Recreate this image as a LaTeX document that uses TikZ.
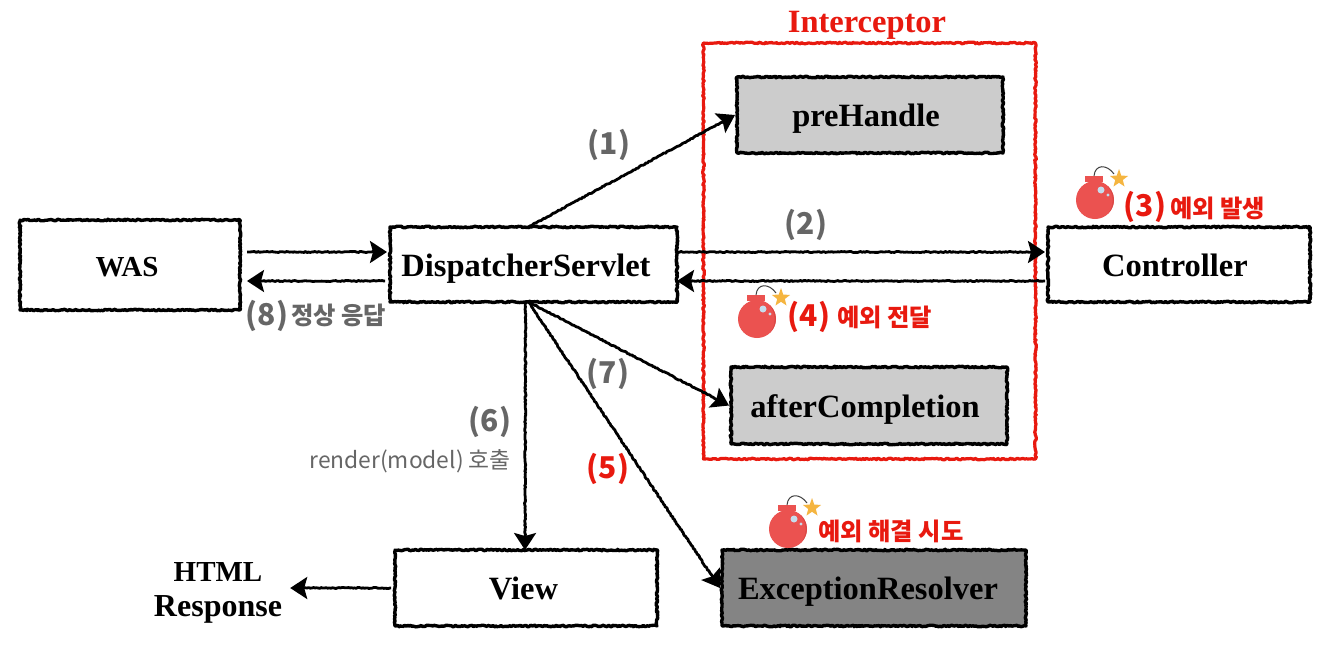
\documentclass[tikz,border=0pt]{standalone}
\usepackage{fontspec}
\setmainfont{Liberation Serif}
\newfontfamily\krfont{Noto Sans CJK KR}
\usetikzlibrary{arrows.meta,decorations.pathmorphing,calc}
\definecolor{redtxt}{HTML}{E8190F}
\definecolor{greytxt}{HTML}{666666}
\definecolor{lightbox}{HTML}{CCCCCC}
\definecolor{darkbox}{HTML}{848484}
\definecolor{bombred}{HTML}{EB5250}
\definecolor{bombdark}{HTML}{D94745}
\definecolor{bombstar}{HTML}{F5B540}
\definecolor{bombshine}{HTML}{C5DCEC}
\newcommand{\lft}[1]{\hspace*{-#1pt}}
\newcommand{\capsize}{\fontsize{29}{36}\selectfont}
\tikzset{
  x=1pt,y=-1pt,
  rough/.style={line join=round,decorate,decoration={random steps,segment length=1.5pt,amplitude=.8pt,pre length=.5pt,post length=.5pt}},
  boxnode/.style={draw=black,line width=3.4pt,rough,inner sep=0pt,outer sep=0pt,text height=23pt,text depth=0pt,font=\bfseries\fontsize{32.5}{36}\selectfont,text=black},
  flow/.style={draw=black,line width=2.8pt,line join=round,
    decorate,decoration={random steps,segment length=1.6pt,amplitude=.55pt,pre length=1pt,post length=8pt},
    -{Stealth[length=17pt,width=22pt,inset=3pt]}},
  tag/.style={inner sep=0pt,font=\krfont\bfseries\fontsize{30}{34}\selectfont},
  note/.style={inner sep=0pt,font=\krfont\bfseries\fontsize{24.3}{28}\selectfont},
  bomb/.pic={
    \fill[bombred] (-5,-19) rectangle (4,-24);
    \fill[bombred] (-10,-24) rectangle (8,-18);
    \fill[bombred] (0,0) circle (19);
    \fill[bombdark] (13,-13.8) arc (-46.5:46.5:19) arc (38:-38:22) -- cycle;
    \fill[bombshine] (6,-10) circle (3.5);
    \fill[bombshine] (13,-5) circle (1.6);
    \draw[line width=1pt,black!75] (-1,-24) .. controls (0,-36) and (12,-36) .. (19,-26);
    \fill[bombstar] (24,-31) -- (26.2,-24.5) -- (33,-24) -- (27.8,-20) -- (29.5,-13.5) -- (24,-17.2) -- (18.5,-13.5) -- (20.2,-20) -- (15,-24) -- (21.8,-24.5) -- cycle;
  }
}
\begin{document}
\begin{tikzpicture}
\path[use as bounding box,fill=white] (0,0) rectangle (1325,648);
% interceptor frame
\node[draw=redtxt,line width=3.2pt,rough,minimum width=332pt,minimum height=416pt,inner sep=0pt] (frame) at (869.5,251) {};
\node[font=\bfseries\fontsize{32.5}{36}\selectfont,text=redtxt,inner sep=0pt] (ttl) at (867,25.5) {Interceptor};
% boxes
\node[boxnode,minimum width=220pt,minimum height=90pt] (was) at (130,265) {\capsize\lft{6}WAS};
\node[boxnode,minimum width=287pt,minimum height=75pt] (ds) at (533.5,264.5) {\lft{15}DispatcherServlet};
\node[boxnode,minimum width=262pt,minimum height=75pt] (ctl) at (1179,264.5) {\lft{8}Controller};
\node[boxnode,fill=lightbox,minimum width=266pt,minimum height=76pt] (pre) at (870,115) {\lft{8}preHandle};
\node[boxnode,fill=lightbox,minimum width=276pt,minimum height=77pt] (after) at (869,405.5) {\lft{8}afterCompletion};
\node[boxnode,minimum width=262pt,minimum height=76pt] (view) at (526,588) {\lft{5}View};
\node[boxnode,fill=darkbox,minimum width=304pt,minimum height=76pt] (er) at (874,588) {\lft{12}ExceptionResolver};
\node[align=center,inner sep=0pt,font=\bfseries\fontsize{32}{35}\selectfont] (html) at (218,592.5) {{\capsize HTML}\\Response};
% connectors
\path[flow] ([xshift=7pt,yshift=13pt]was.east) -- ([xshift=-3pt,yshift=12.5pt]ds.west);
\path[flow] ([xshift=-5pt,yshift=-16.5pt]ds.west) -- ([xshift=7pt,yshift=-16pt]was.east);
\path[flow] ([yshift=12.5pt]ds.east) -- ([xshift=-3pt,yshift=12.5pt]ctl.west);
\path[flow] ([xshift=-3pt,yshift=-16.5pt]ctl.west) -- ([yshift=-16.5pt]ds.east);
\path[flow] ([xshift=-5pt]ds.north) -- ([xshift=-2pt]pre.west);
\path[flow] ([xshift=-5pt]ds.south) -- ([xshift=-2pt]after.west);
\path[flow] ([xshift=-5pt]ds.south) -- ([xshift=-2pt]er.west);
\path[flow] ([xshift=-8pt]ds.south) -- ([xshift=-1pt]view.north);
\path[flow] ([xshift=-4pt]view.west) -- ([xshift=8pt,yshift=4.5pt]html.east);
% labels
\node[tag,text=greytxt] (l1) at (609,145) {(1)};
\node[tag,text=greytxt] (l2) at (806,225) {(2)};
\node[tag,text=redtxt] (l3) at (1145,207) {(3)};
\node[note,text=redtxt,anchor=west] (l3b) at (1170,208) {예외 발생};
\node[tag,text=redtxt] (l4) at (809,317) {(4)};
\node[note,text=redtxt,anchor=west] (l4b) at (837,317) {예외 전달};
\node[tag,text=redtxt] (l5) at (608,469) {(5)};
\node[tag,text=greytxt] (l6) at (490,422) {(6)};
\node[inner sep=0pt,text=greytxt,anchor=east,font=\krfont\fontsize{22.8}{27}\selectfont] (l6b) at (511,461) {render(model) 호출};
\node[tag,text=greytxt] (l7) at (608,374) {(7)};
\node[tag,text=greytxt] (l8) at (267,316) {(8)};
\node[note,text=greytxt,anchor=west] (l8b) at (291,315) {정상 응답};
\node[note,text=redtxt,anchor=west] (lx) at (818,531) {예외 해결 시도};
% bombs
\pic at (1095,200) {bomb};
\pic at (757,319) {bomb};
\pic at (788,529) {bomb};
\end{tikzpicture}
\end{document}
